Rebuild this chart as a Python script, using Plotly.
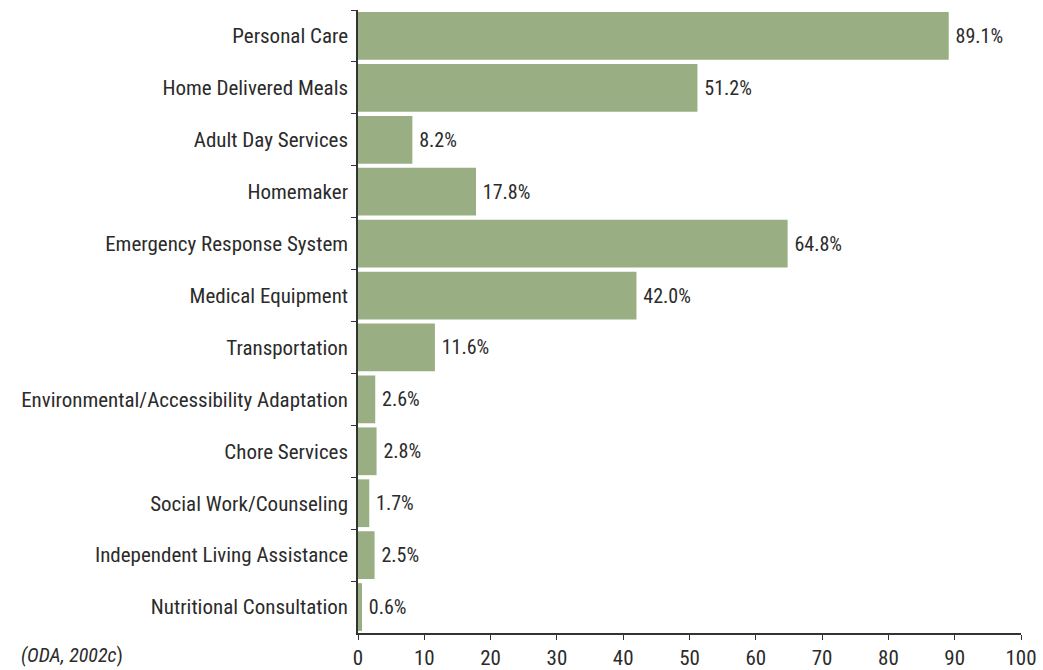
import plotly.graph_objects as go

categories = [
    "Personal Care",
    "Home Delivered Meals",
    "Adult Day Services",
    "Homemaker",
    "Emergency Response System",
    "Medical Equipment",
    "Transportation",
    "Environmental/Accessibility Adaptation",
    "Chore Services",
    "Social Work/Counseling",
    "Independent Living Assistance",
    "Nutritional Consultation",
]
values = [89.1, 51.2, 8.2, 17.8, 64.8, 42.0, 11.6, 2.6, 2.8, 1.7, 2.5, 0.6]
x_ticks = [0, 10, 20, 30, 40, 50, 60, 70, 80, 90, 100]
source_text = "<i>(ODA, 2002c</i>)"

FONT = "Liberation Sans Narrow, Roboto Condensed, Arial Narrow, sans-serif"
TXT = "#2b2b2b"

fig = go.Figure(
    go.Bar(
        x=values,
        y=categories,
        orientation="h",
        marker=dict(color="#99AF83", line=dict(width=0)),
        texttemplate="\u2009%{x:.1f}%",
        textposition="outside",
        textfont=dict(family=FONT, size=20, color=TXT),
        cliponaxis=False,
        width=0.92,
    )
)

fig.update_layout(
    width=1043,
    height=670,
    margin=dict(l=358, r=22, t=10, b=37, autoexpand=False),
    plot_bgcolor="white",
    paper_bgcolor="white",
    showlegend=False,
    font=dict(family=FONT, size=20, color=TXT),
    bargap=0.08,
)

fig.update_xaxes(
    range=[0, 100],
    tickvals=x_ticks,
    ticktext=[str(t) for t in x_ticks],
    showgrid=False,
    zeroline=False,
    showline=True,
    linecolor="#333333",
    linewidth=1.5,
    ticks="outside",
    ticklen=5,
    tickcolor="#333333",
    tickfont=dict(family=FONT, size=21, color=TXT),
    automargin=False,
)

fig.update_yaxes(
    autorange="reversed",
    showgrid=False,
    zeroline=False,
    showline=True,
    linecolor="#333333",
    linewidth=1.5,
    ticks="outside",
    ticklen=5,
    tickcolor="#333333",
    tickson="boundaries",
    ticklabelstandoff=4,
    tickfont=dict(family=FONT, size=21, color=TXT),
    automargin=False,
)

fig.add_annotation(
    text=source_text,
    xref="paper",
    yref="paper",
    x=-0.512,
    y=-0.036,
    xanchor="left",
    yanchor="middle",
    showarrow=False,
    font=dict(family=FONT, size=20, color=TXT),
)

fig.write_html(
    "out.html",
    config={"displayModeBar": False},
    post_script="document.body.style.margin='0';document.body.style.padding='0';",
)
